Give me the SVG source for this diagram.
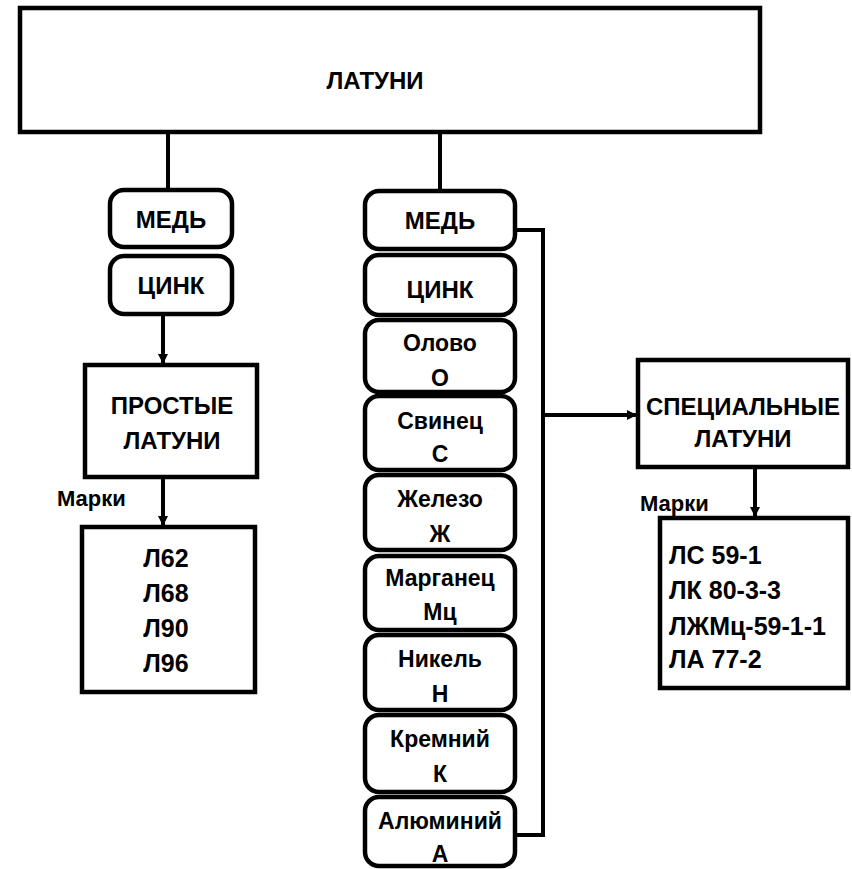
<svg xmlns="http://www.w3.org/2000/svg" width="852" height="869" viewBox="0 0 852 869">
<style>
.box{fill:#fff;stroke:#000;stroke-width:4.5}
.rbox{fill:#fff;stroke:#000;stroke-width:4.5}
.ln{fill:none;stroke:#000;stroke-width:4}
text{font-family:"Liberation Sans",Arial,sans-serif;font-weight:bold;fill:#000}
.c{text-anchor:middle}
.t{font-size:24px}
.s{font-size:23px}
.k{font-size:22px}
.m{font-size:25px}
</style>
<defs>
<marker id="ah" viewBox="0 0 10 10" refX="10" refY="5" markerWidth="2.5" markerHeight="2.5" orient="auto" markerUnits="strokeWidth">
<path d="M0,0 L10,5 L0,10 z" fill="#000"/>
</marker>
</defs>
<g id="connectors">
<line class="ln" x1="168" y1="133" x2="168" y2="190"/>
<line class="ln" x1="440" y1="133" x2="440" y2="191"/>
<line class="ln" x1="163" y1="314" x2="163" y2="364" marker-end="url(#ah)"/>
<line class="ln" x1="163" y1="477" x2="163" y2="526" marker-end="url(#ah)"/>
<path class="ln" d="M515,230 H543 V835 H515"/>
<line class="ln" x1="543" y1="415" x2="637" y2="415" marker-end="url(#ah)"/>
<line class="ln" x1="755" y1="467" x2="755" y2="517" marker-end="url(#ah)"/>
</g>
<g id="latuni">
<rect class="box" x="20" y="8" width="740" height="124"/>
<text class="c t" x="375" y="89">ЛАТУНИ</text>
</g>
<g id="med-left">
<rect class="rbox" x="110" y="190" width="122" height="57" rx="14"/>
<text class="c t" x="171" y="228">МЕДЬ</text>
</g>
<g id="zink-left">
<rect class="rbox" x="110" y="256" width="122" height="58" rx="14"/>
<text class="c t" x="171" y="294">ЦИНК</text>
</g>
<g id="prostye">
<rect class="box" x="85" y="365" width="172" height="112"/>
<text class="c t" x="172" y="414">ПРОСТЫЕ</text>
<text class="c t" x="172" y="449">ЛАТУНИ</text>
</g>
<text class="k" x="57" y="506">Марки</text>
<g id="marks-left">
<rect class="box" x="82" y="527" width="173" height="165"/>
<text class="c m" x="166" y="567">Л62</text>
<text class="c m" x="166" y="602">Л68</text>
<text class="c m" x="166" y="637">Л90</text>
<text class="c m" x="166" y="672">Л96</text>
</g>
<g id="med-mid">
<rect class="rbox" x="365" y="191" width="150" height="58" rx="14"/>
<text class="c t" x="440" y="229">МЕДЬ</text>
</g>
<g id="zink-mid">
<rect class="rbox" x="365" y="255" width="150" height="60" rx="14"/>
<text class="c t" x="440" y="298">ЦИНК</text>
</g>
<g id="olovo">
<rect class="rbox" x="365" y="320" width="150" height="72" rx="14"/>
<text class="c s" x="440" y="351">Олово</text>
<text class="c s" x="440" y="386">О</text>
</g>
<g id="svinec">
<rect class="rbox" x="365" y="396" width="150" height="74" rx="14"/>
<text class="c s" x="440" y="429">Свинец</text>
<text class="c s" x="440" y="462">С</text>
</g>
<g id="zhelezo">
<rect class="rbox" x="365" y="475" width="150" height="75" rx="14"/>
<text class="c s" x="440" y="507">Железо</text>
<text class="c s" x="440" y="542">Ж</text>
</g>
<g id="marganec">
<rect class="rbox" x="365" y="556" width="150" height="74" rx="14"/>
<text class="c s" x="440" y="586">Марганец</text>
<text class="c s" x="440" y="620">Мц</text>
</g>
<g id="nikel">
<rect class="rbox" x="365" y="635" width="150" height="75" rx="14"/>
<text class="c s" x="440" y="667">Никель</text>
<text class="c s" x="440" y="702">Н</text>
</g>
<g id="kremniy">
<rect class="rbox" x="365" y="715" width="150" height="77" rx="14"/>
<text class="c s" x="440" y="747">Кремний</text>
<text class="c s" x="440" y="782">К</text>
</g>
<g id="alyuminiy">
<rect class="rbox" x="365" y="797" width="150" height="69" rx="14"/>
<text class="c s" x="440" y="829">Алюминий</text>
<text class="c s" x="440" y="862">А</text>
</g>
<g id="specialnye">
<rect class="box" x="638" y="360" width="210" height="107"/>
<text class="c t" x="743" y="415">СПЕЦИАЛЬНЫЕ</text>
<text class="c t" x="743" y="447">ЛАТУНИ</text>
</g>
<text class="k" x="640" y="511">Марки</text>
<g id="marks-right">
<rect class="box" x="660" y="518" width="188" height="170"/>
<text class="m" x="669" y="564">ЛС 59-1</text>
<text class="m" x="669" y="599">ЛК 80-3-3</text>
<text class="m" x="669" y="635">ЛЖМц-59-1-1</text>
<text class="m" x="669" y="668">ЛА 77-2</text>
</g>
</svg>
